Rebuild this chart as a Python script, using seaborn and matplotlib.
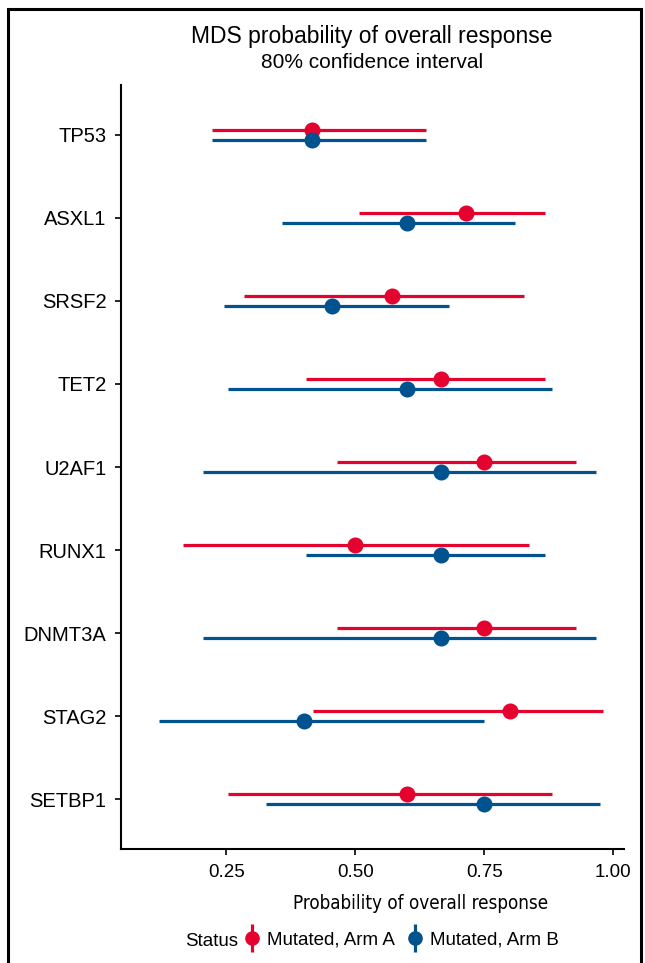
import numpy as np
import pandas as pd
import matplotlib
matplotlib.use("Agg")
import matplotlib.pyplot as plt
from matplotlib.lines import Line2D
from matplotlib.legend_handler import HandlerTuple
from matplotlib.patches import Rectangle
import seaborn as sns

genes = ["TP53", "ASXL1", "SRSF2", "TET2", "U2AF1", "RUNX1", "DNMT3A", "STAG2", "SETBP1"]
arms = ["Mutated, Arm A", "Mutated, Arm B"]

# point estimate and 80% interval
arm_a_est = [0.417, 0.714, 0.571, 0.667, 0.750, 0.500, 0.750, 0.800, 0.600]
arm_a_lo = [0.223, 0.508, 0.284, 0.405, 0.464, 0.166, 0.464, 0.419, 0.253]
arm_a_hi = [0.637, 0.867, 0.827, 0.867, 0.928, 0.836, 0.928, 0.980, 0.882]
arm_b_est = [0.417, 0.600, 0.455, 0.600, 0.667, 0.667, 0.667, 0.400, 0.750]
arm_b_lo = [0.223, 0.358, 0.246, 0.253, 0.205, 0.405, 0.205, 0.119, 0.327]
arm_b_hi = [0.637, 0.810, 0.681, 0.882, 0.966, 0.867, 0.966, 0.749, 0.975]

x_ticks = [0.25, 0.50, 0.75, 1.00]
x_tick_labels = ["0.25", "0.50", "0.75", "1.00"]

RED = "#E4032E"
BLUE = "#00538E"
W, H = 645, 963


def long_table():
    """Three rows (lo, est, hi) per gene and arm, so seaborn's
    median estimator gives the estimate and min/max give the interval."""
    rows = []
    for arm, est, lo, hi in [
        (arms[0], arm_a_est, arm_a_lo, arm_a_hi),
        (arms[1], arm_b_est, arm_b_lo, arm_b_hi),
    ]:
        for g, e, l, h in zip(genes, est, lo, hi):
            for v in (l, e, h):
                rows.append({"gene": g, "Status": arm, "p": v})
    return pd.DataFrame(rows)


df = long_table()

sns.set_style("white")
plt.rcParams["font.family"] = ["Liberation Sans", "DejaVu Sans"]
plt.rcParams["text.color"] = "black"
plt.rcParams["axes.labelcolor"] = "black"

fig = plt.figure(figsize=(W / 100, H / 100), dpi=100)
ax = fig.add_axes([121 / W, 1 - 849 / H, (624 - 121) / W, (849 - 85) / H])

sns.pointplot(
    data=df,
    x="p",
    y="gene",
    hue="Status",
    order=genes,
    hue_order=arms,
    palette=[RED, BLUE],
    estimator="median",
    errorbar=lambda v: (v.min(), v.max()),
    dodge=0.128,
    linestyle="none",
    markers="o",
    markersize=9.5,
    err_kws={"linewidth": 2.3, "solid_capstyle": "butt"},
    ax=ax,
)

ax.set_xlim(0.046, 1.021)
ax.set_ylim(len(genes) - 0.4, -0.6)
ax.set_xticks(x_ticks)
ax.set_xticklabels(x_tick_labels)
ax.set_ylabel("")
ax.set_xlabel("")
ax.legend_.remove()

for s in ["top", "right"]:
    ax.spines[s].set_visible(False)
for s in ["left", "bottom"]:
    ax.spines[s].set_color("black")
    ax.spines[s].set_linewidth(1.5)
ax.tick_params(axis="both", which="both", length=4.5, width=1.2, color="black",
               labelcolor="black", direction="out", bottom=True, left=True)
ax.tick_params(axis="y", pad=6, labelsize=14.5)
ax.tick_params(axis="x", pad=6, labelsize=13.5)

fig.text(372 / W, 1 - 37 / H, "MDS probability of overall response",
         ha="center", va="center", fontsize=16.5)
fig.text(372 / W, 1 - 62 / H, "80% confidence interval",
         ha="center", va="center", fontsize=15)
fig.text(421 / W, 1 - 903 / H, "Probability of overall response",
         ha="center", va="center", fontsize=13.5,
         family=["DejaVu Sans"], fontstretch="condensed")

# legend: pointrange keys drawn vertically
handles = []
for c in (RED, BLUE):
    bar = Line2D([], [], color=c, marker="|", markersize=20, markeredgewidth=2.3, linestyle="none")
    dot = Line2D([], [], color=c, marker="o", markersize=9.5, linestyle="none")
    handles.append((bar, dot))
fig.text(212 / W, 1 - 941 / H, "Status", ha="center", va="center", fontsize=13.5)
fig.legend(handles, arms, handler_map={tuple: HandlerTuple(ndivide=1)},
           loc="center left", bbox_to_anchor=(243 / W, 1 - 940 / H), ncol=2,
           frameon=False, fontsize=13.5, handlelength=1.0, handletextpad=0.3,
           columnspacing=0.55, borderaxespad=0, borderpad=0)

fig.add_artist(Rectangle((8 / W, -0.02), (641 - 8) / W, 1.02 - 9 / H,
                         transform=fig.transFigure, fill=False,
                         edgecolor="black", linewidth=2.2))

fig.savefig("out.png", dpi=100)
